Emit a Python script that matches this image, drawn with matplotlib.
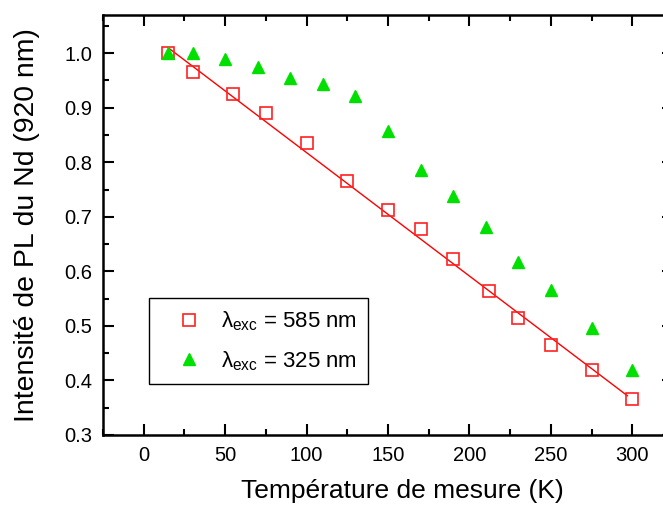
import matplotlib

matplotlib.use("Agg")
import matplotlib.pyplot as plt
from matplotlib.ticker import MultipleLocator

plt.rcParams["font.family"] = ["Liberation Sans", "DejaVu Sans"]
plt.rcParams["mathtext.fontset"] = "custom"
plt.rcParams["mathtext.rm"] = "Liberation Sans"
plt.rcParams["mathtext.it"] = "Liberation Sans"

# excitation at 585 nm (open red squares)
temp_585 = [15, 30, 55, 75, 100, 125, 150, 170, 190, 212, 230, 250, 275, 300]
pl_585 = [1.000, 0.965, 0.925, 0.891, 0.836, 0.766, 0.713, 0.678, 0.622,
          0.564, 0.514, 0.465, 0.420, 0.366]

# excitation at 325 nm (green triangles)
temp_325 = [15, 30, 50, 70, 90, 110, 130, 150, 170, 190, 210, 230, 250, 275, 300]
pl_325 = [1.000, 1.001, 0.990, 0.974, 0.954, 0.943, 0.921, 0.857, 0.786,
          0.739, 0.682, 0.618, 0.566, 0.497, 0.419]

# linear fit through the 585 nm points
fit_x = [15, 297]
fit_y = [1.010, 0.372]

fig = plt.figure(figsize=(6.63, 5.05), dpi=100)
W, H = 663, 505
ax = fig.add_axes([103 / W, 1 - 435 / H, (673 - 103) / W, (435 - 15) / H])

ax.plot(fit_x, fit_y, color="red", lw=1.0, zorder=2)
ax.plot(temp_585, pl_585, "s", ms=9, mfc="none", mec="#ff2020", mew=1.2,
        ls="none", zorder=3, label=r"$\lambda_{\mathrm{exc}}$ = 585 nm")
ax.plot(temp_325, pl_325, "^", ms=9, color="#00e000", ls="none", zorder=3,
        label=r"$\lambda_{\mathrm{exc}}$ = 325 nm")

ax.set_xlim(-25, 325)
ax.set_ylim(0.3, 1.07)
ax.xaxis.set_major_locator(MultipleLocator(50))
ax.xaxis.set_minor_locator(MultipleLocator(25))
ax.yaxis.set_major_locator(MultipleLocator(0.1))
ax.yaxis.set_minor_locator(MultipleLocator(0.05))
ax.yaxis.set_major_formatter(lambda v, p: f"{v:.1f}")
ax.tick_params(which="both", direction="in", top=True, right=True, width=1.5,
               labelsize=14.5, pad=8)
ax.tick_params(which="major", length=8)
ax.tick_params(which="minor", length=4)
for s in ax.spines.values():
    s.set_linewidth(1.8)

ax.set_xlabel("Température de mesure (K)", fontsize=19, labelpad=10)
ax.xaxis.label.set_x(0.5246)
ax.set_ylabel("Intensité de PL du Nd (920 nm)", fontsize=20.4, labelpad=17)

leg = ax.legend(loc="upper left", bbox_to_anchor=(149 / W, 1 - 298 / H),
                bbox_transform=fig.transFigure, fontsize=16, fancybox=False,
                edgecolor="black", framealpha=1, borderpad=0.52,
                handletextpad=0.1, labelspacing=0.72, borderaxespad=0,
                handlelength=2.6)
leg.get_frame().set_linewidth(1.0)

fig.savefig("out.png", dpi=100)
